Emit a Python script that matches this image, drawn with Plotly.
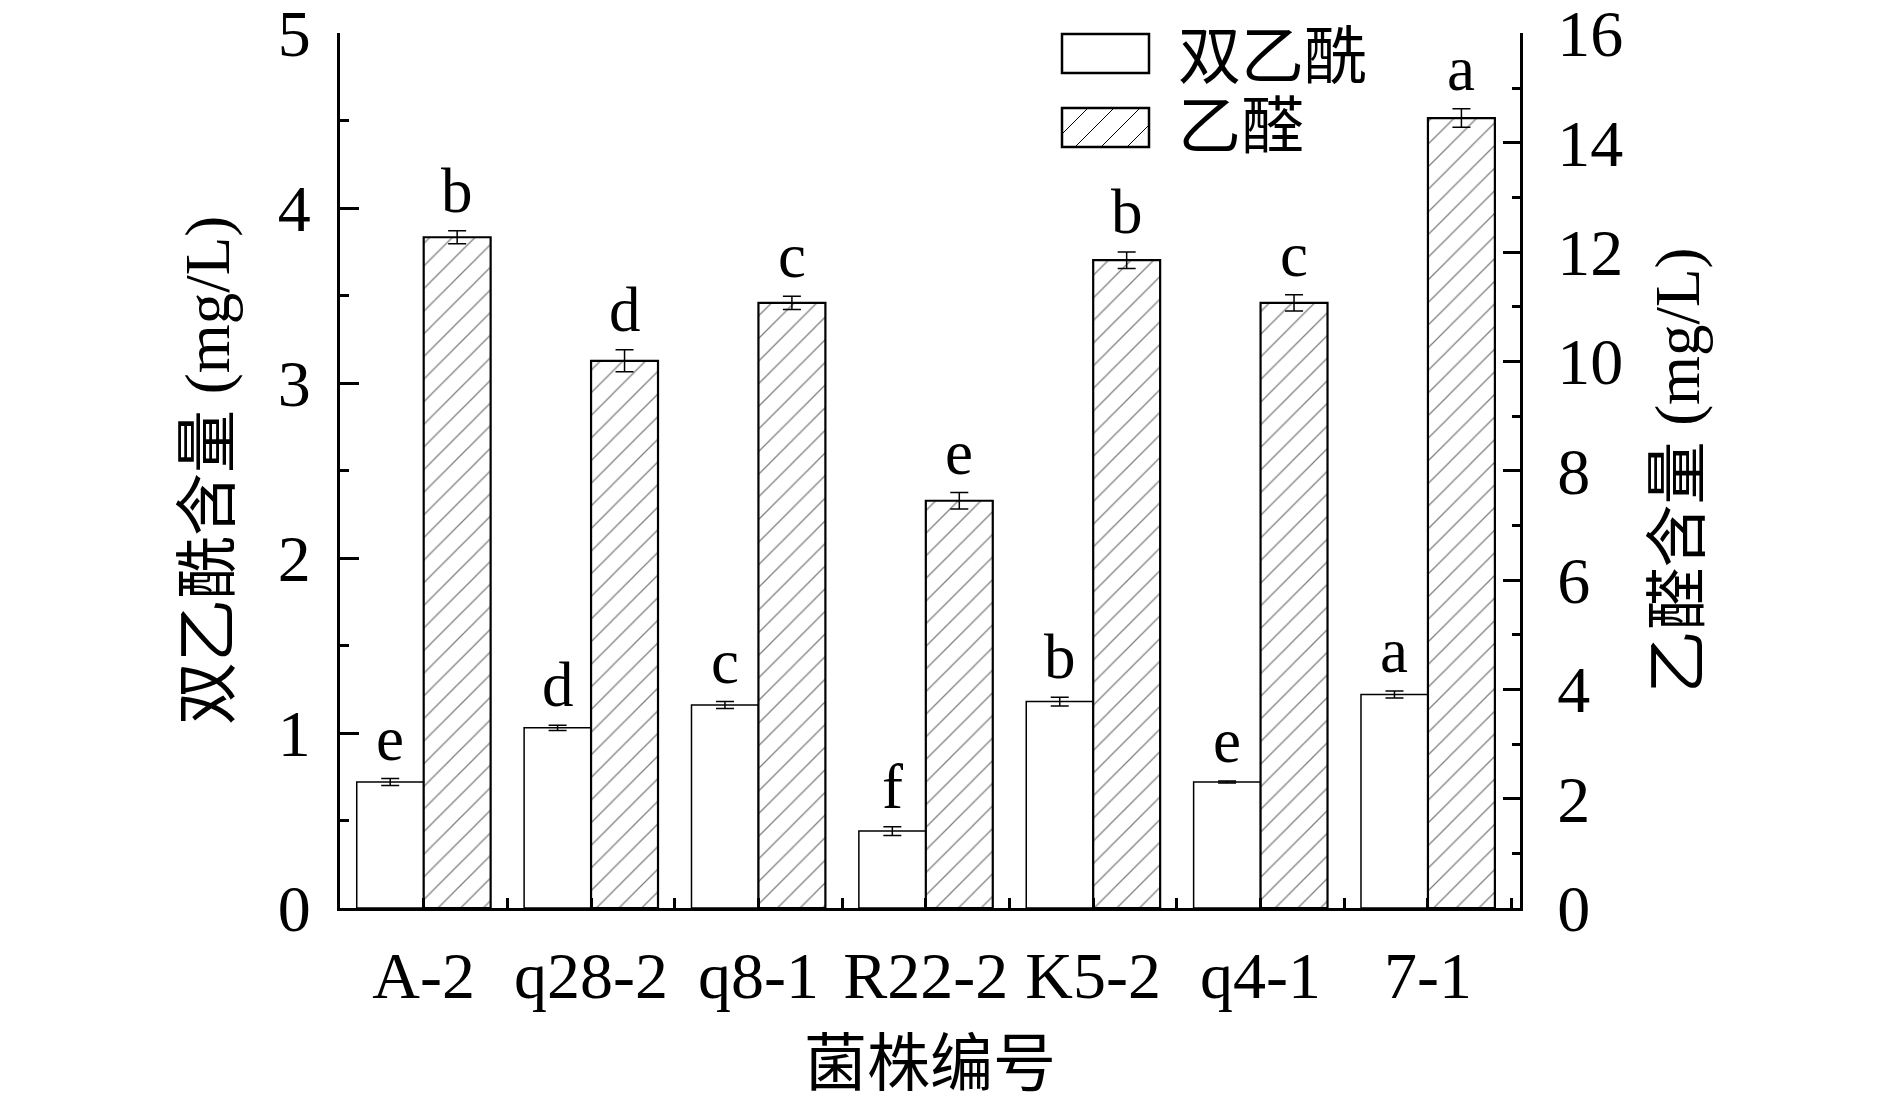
import plotly.graph_objects as go

categories = ["A-2", "q28-2", "q8-1", "R22-2", "K5-2", "q4-1", "7-1"]
diacetyl = [0.72, 1.03, 1.16, 0.44, 1.18, 0.72, 1.22]
diacetyl_err = [0.02, 0.015, 0.02, 0.025, 0.025, 0.006, 0.02]
diacetyl_letters = ["e", "d", "c", "f", "b", "e", "a"]
acetaldehyde = [12.27, 10.01, 11.07, 7.45, 11.85, 11.07, 14.45]
acetaldehyde_err = [0.12, 0.2, 0.12, 0.15, 0.15, 0.15, 0.17]
acetaldehyde_letters = ["b", "d", "c", "e", "b", "c", "a"]
y1_ticks = [0, 1, 2, 3, 4, 5]
y2_ticks = [0, 2, 4, 6, 8, 10, 12, 14, 16]

FONT = "'Liberation Serif', 'Times New Roman', 'Noto Sans CJK SC', serif"
FS = 63
TFS = 66
idx = list(range(len(categories)))

fig = go.Figure()
fig.add_trace(go.Bar(
    x=idx, y=diacetyl, name="双乙酰", width=0.4, offset=-0.4,
    marker=dict(color="white", line=dict(color="black", width=1.5)),
    error_y=dict(type="data", array=diacetyl_err, color="black", thickness=1.5, width=9),
    yaxis="y", showlegend=False,
))
fig.add_trace(go.Bar(
    x=idx, y=acetaldehyde, name="乙醛", width=0.4, offset=0,
    marker=dict(color="white", line=dict(color="black", width=2.2),
                pattern=dict(shape="/", fgcolor="black", bgcolor="white", size=16, solidity=0.08)),
    error_y=dict(type="data", array=acetaldehyde_err, color="black", thickness=1.5, width=9),
    yaxis="y2", showlegend=False,
))

annotations = []
for i, (v, e, t) in enumerate(zip(diacetyl, diacetyl_err, diacetyl_letters)):
    annotations.append(dict(x=i - 0.2, y=v + e, xref="x", yref="y", text=t, showarrow=False,
                            yanchor="bottom", yshift=3, font=dict(family=FONT, size=FS, color="black")))
for i, (v, e, t) in enumerate(zip(acetaldehyde, acetaldehyde_err, acetaldehyde_letters)):
    annotations.append(dict(x=i + 0.2, y=v + e, xref="x", yref="y2", text=t, showarrow=False,
                            yanchor="bottom", yshift=3, font=dict(family=FONT, size=FS, color="black")))

# page offset (body margin) of 8 px is compensated in margins
OFF = 8
# custom legend (page pixel coords, plot area x:340-1520 px, y:33-908 px)
L, R, T, B = 340, 1520, 33, 908
def px(xp):
    return (xp - L) / (R - L)
def py(yp):
    return (B - yp) / (B - T)

shapes = []
shapes.append(dict(type="rect", xref="paper", yref="paper", x0=px(1062), x1=px(1149), y0=py(73), y1=py(34),
                   line=dict(color="black", width=2.5), fillcolor="white"))
sx0, sx1, sy0, sy1 = 1062, 1149, 108, 147
shapes.append(dict(type="rect", xref="paper", yref="paper", x0=px(sx0), x1=px(sx1), y0=py(sy1), y1=py(sy0),
                   line=dict(color="black", width=2.5), fillcolor="white"))
h = sy1 - sy0
step = 26
k = sx0 - h
while k < sx1:
    xa, ya = k, sy1
    xb, yb = k + h, sy0
    if xa < sx0:
        ya = sy1 - (sx0 - xa)
        xa = sx0
    if xb > sx1:
        yb = sy0 + (xb - sx1)
        xb = sx1
    if xb > xa:
        shapes.append(dict(type="line", xref="paper", yref="paper", x0=px(xa), y0=py(ya), x1=px(xb), y1=py(yb),
                           line=dict(color="black", width=1)))
    k += step

annotations.append(dict(x=px(1176), y=py(57), xref="paper", yref="paper", text="双乙酰", showarrow=False,
                        xanchor="left", yanchor="middle", font=dict(family=FONT, size=FS, color="black")))
annotations.append(dict(x=px(1176), y=py(127), xref="paper", yref="paper", text="乙醛", showarrow=False,
                        xanchor="left", yanchor="middle", font=dict(family=FONT, size=FS, color="black")))

fig.update_layout(
    width=1890, height=1099,
    margin=dict(l=L - OFF, r=1890 - R + OFF, t=T - OFF, b=1099 - B + OFF, autoexpand=False),
    paper_bgcolor="white", plot_bgcolor="white",
    font=dict(family=FONT, size=FS, color="black"),
    bargap=0.2,
    xaxis=dict(
        range=[-0.5, 6.55], tickmode="array", tickvals=idx, ticktext=categories,
        showline=True, linecolor="black", linewidth=3, mirror=False,
        ticks="inside", ticklen=10, tickwidth=3, tickcolor="black",
        minor=dict(tickmode="linear", tick0=0.5, dtick=1, ticks="inside", ticklen=10, tickwidth=3, tickcolor="black"),
        showgrid=False, zeroline=False, ticklabelstandoff=8, automargin=False,
        tickfont=dict(family=FONT, size=TFS),
        title=dict(text="菌株编号", font=dict(family=FONT, size=FS), standoff=30),
    ),
    yaxis=dict(
        range=[0, 5.002], tickvals=y1_ticks,
        showline=True, linecolor="black", linewidth=3,
        ticks="inside", ticklen=19, tickwidth=3, tickcolor="black",
        minor=dict(tickmode="linear", tick0=0.5, dtick=1, ticks="inside", ticklen=9, tickwidth=2.5, tickcolor="black"),
        showgrid=False, zeroline=False, ticklabelstandoff=13, ticklabeloverflow="allow", automargin=False,
        tickfont=dict(family=FONT, size=TFS),
        title=dict(text="双乙酰含量 (mg/L)", font=dict(family=FONT, size=FS), standoff=28),
    ),
    yaxis2=dict(
        range=[0, 16.006], tickvals=y2_ticks, overlaying="y", side="right",
        showline=True, linecolor="black", linewidth=3,
        ticks="inside", ticklen=17, tickwidth=3, tickcolor="black",
        minor=dict(tickmode="linear", tick0=1, dtick=2, ticks="inside", ticklen=8, tickwidth=2.5, tickcolor="black"),
        showgrid=False, zeroline=False, ticklabelstandoff=21, ticklabeloverflow="allow", automargin=False,
        tickfont=dict(family=FONT, size=TFS),
        title=dict(text="乙醛含量 (mg/L)", font=dict(family=FONT, size=FS), standoff=33),
    ),
    shapes=shapes,
    annotations=annotations,
)

fig.write_html("out.html")
